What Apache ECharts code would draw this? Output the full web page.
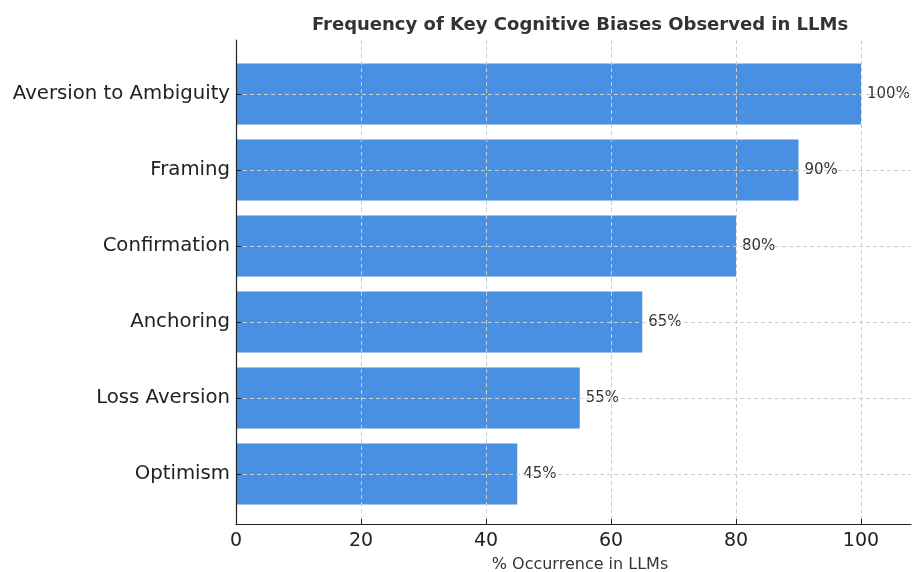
<!DOCTYPE html>
<html>
<head>
<meta charset="utf-8">
<script src="https://cdn.jsdelivr.net/npm/echarts@6/dist/echarts.min.js"></script>
<style>
  html, body { margin: 0; padding: 0; background: #fff; }
  #box { width: 912px; height: 572px; }
</style>
</head>
<body>
<div id="box"></div>
<script>
// 数据
var biases = ['Aversion to Ambiguity', 'Framing', 'Confirmation', 'Anchoring', 'Loss Aversion', 'Optimism'];
var occurrence = [100, 90, 80, 65, 55, 45];
var xTicks = [0, 20, 40, 60, 80, 100];

var FONT = 'DejaVu Sans';
var mychart = echarts.init(document.getElementById('box'));

var option = {
    backgroundColor: '#ffffff',
    animation: false,
    grid: [
        // 外框: 坐标轴线和竖向网格线 (右边到画面边缘)
        { left: 236, right: 1, top: 40, bottom: 48 },
        // 柱子
        { left: 236, right: 1, top: 56, bottom: 60 }
    ],
    graphic: [
        { type: 'text', x: 580, y: 25, style: { text: 'Frequency of Key Cognitive Biases Observed in LLMs', align: 'center', verticalAlign: 'middle', font: 'bold 18px "DejaVu Sans"', fill: '#333333' } },
        { type: 'text', x: 580, y: 565, style: { text: '% Occurrence in LLMs', align: 'center', verticalAlign: 'middle', font: '16px "DejaVu Sans"', fill: '#333333' } }
    ],
    xAxis: [{
        gridIndex: 0,
        type: 'value',
        min: 0,
        max: 108,
        interval: 20,
        z: 3,
        axisLine: { lineStyle: { color: '#222', width: 1.2 } },
        axisTick: { inside: true, length: 5, lineStyle: { color: '#222' } },
        axisLabel: {
            fontFamily: FONT, fontSize: 19, color: '#222', margin: 8, showMaxLabel: false,
            formatter: function (v) { return xTicks.indexOf(v) >= 0 ? String(v) : ''; }
        },
        splitLine: { show: true, showMaxLine: false, lineStyle: { type: [4, 3], color: '#cccccc', width: 1 } }
    }, {
        gridIndex: 1,
        type: 'value',
        min: 0,
        max: 108,
        show: false
    }],
    yAxis: [{
        gridIndex: 0,
        type: 'value',
        min: 0,
        max: 1,
        z: 5,
        axisLine: { show: true, lineStyle: { color: '#222', width: 1.2 } },
        axisTick: { show: false },
        axisLabel: { show: false },
        splitLine: { show: false }
    }, {
        gridIndex: 1,
        type: 'category',
        inverse: true,
        data: biases,
        z: 3,
        axisLine: { show: false },
        axisTick: { show: true, inside: true, length: 5, alignWithLabel: true, lineStyle: { color: '#222' } },
        axisLabel: { fontFamily: FONT, fontSize: 19.7, color: '#222', margin: 6 },
        splitLine: { show: true, alignWithLabel: true, lineStyle: { type: [4, 3], color: '#cccccc', width: 1 } }
    }],
    series: [{
        type: 'bar',
        xAxisIndex: 1,
        yAxisIndex: 1,
        data: occurrence,
        barWidth: '80%',
        itemStyle: { color: '#4a90e2' },
        label: {
            show: true,
            position: 'right',
            distance: 6,
            fontFamily: FONT,
            fontSize: 15,
            color: '#333',
            formatter: '{c}%'
        }
    }]
};

mychart.setOption(option);
</script>
</body>
</html>
